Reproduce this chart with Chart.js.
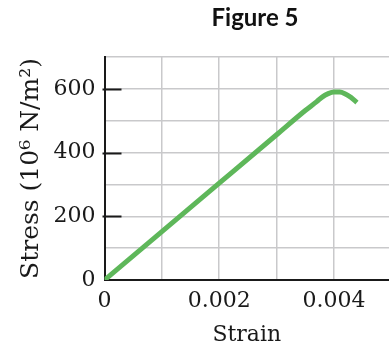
<!DOCTYPE html>
<html>
<head>
<meta charset="utf-8">
<script src="https://cdn.jsdelivr.net/npm/chart.js@4.4.0/dist/chart.umd.min.js"></script>
<style>
  html, body { margin: 0; padding: 0; background: #fff; overflow: hidden; }
  #wrap { position: relative; width: 389px; height: 349px; }
</style>
</head>
<body>
<div id="wrap"><canvas id="chart" width="389" height="349"></canvas></div>
<script>
// values
var strain = [0, 0.001, 0.002, 0.003, 0.0035, 0.0037, 0.0038, 0.0039, 0.004, 0.0041, 0.0042, 0.0043, 0.0044];
var stress = [0, 152, 304, 456, 532, 560, 575, 585, 590, 590, 584, 573, 557];
var xGrid = [0, 0.001, 0.002, 0.003, 0.004];
var xLabels = [0, 0.002, 0.004];
var yLabels = [0, 200, 400, 600];

var serif = 'DejaVu Serif';
var ink = '#1a1a1a';

var points = strain.map(function(s, i) { return {x: s, y: stress[i]}; });

// black tick marks drawn inside the plot at labelled values
var innerTicks = {
    id: 'innerTicks',
    afterDatasetsDraw: function(chart) {
        var ctx = chart.ctx, area = chart.chartArea, y = chart.scales.y;
        ctx.save();
        ctx.strokeStyle = ink;
        ctx.lineWidth = 2;
        yLabels.forEach(function(v) {
            if (v === 0) return;
            var py = Math.round(y.getPixelForValue(v)) + 0.5;
            ctx.beginPath();
            ctx.moveTo(area.left - 2, py);
            ctx.lineTo(area.left + 17, py);
            ctx.stroke();
        });
        ctx.restore();
    }
};

// title sits off-centre, above the plot
var figTitle = {
    id: 'figTitle',
    afterDraw: function(chart) {
        var ctx = chart.ctx;
        ctx.save();
        ctx.font = 'bold 24px Lato';
        ctx.fillStyle = '#111';
        ctx.textAlign = 'center';
        ctx.textBaseline = 'middle';
        ctx.fillText('Figure 5', 255, 18);
        ctx.restore();
    }
};

var ctx = document.getElementById('chart').getContext('2d');
var chart = new Chart(ctx, {
    type: 'line',
    data: {
        datasets: [{
            data: points,
            borderColor: '#5eb75a',
            borderWidth: 5,
            borderCapStyle: 'butt',
            pointRadius: 0,
            fill: false,
            cubicInterpolationMode: 'monotone'
        }]
    },
    plugins: [innerTicks, figTitle],
    options: {
        responsive: false,
        animation: false,
        events: [],
        layout: { padding: { top: 57, left: 0, right: 0, bottom: 0 } },
        plugins: { legend: { display: false }, tooltip: { enabled: false }, title: { display: false } },
        scales: {
            x: {
                type: 'linear',
                min: 0,
                max: 0.00496,
                afterBuildTicks: function(scale) {
                    scale.ticks = xGrid.map(function(v) { return {value: v}; });
                },
                afterFit: function(scale) { scale.height = 69; },
                grid: { color: '#c9c9cb', lineWidth: 1.5, drawTicks: false },
                border: { display: true, color: ink, width: 2 },
                ticks: {
                    padding: 8,
                    autoSkip: false,
                    color: ink,
                    font: { family: serif, size: 22 },
                    maxRotation: 0,
                    callback: function(v) {
                        var hit = xLabels.find(function(l) { return Math.abs(l - v) < 1e-9; });
                        return hit === undefined ? '' : (hit === 0 ? '0' : hit.toFixed(3));
                    }
                },
                title: {
                    display: true,
                    text: 'Strain',
                    color: ink,
                    font: { family: serif, size: 22 },
                    padding: { top: 0, bottom: 1 }
                }
            },
            y: {
                min: 0,
                max: 700,
                afterFit: function(scale) { scale.width = 104.5; },
                grid: { color: '#c9c9cb', lineWidth: 1.5, drawTicks: false },
                border: { display: true, color: ink, width: 2 },
                ticks: {
                    stepSize: 100,
                    padding: 9,
                    autoSkip: false,
                    color: ink,
                    font: { family: serif, size: 22 },
                    callback: function(v) { return yLabels.indexOf(v) >= 0 ? String(v) : ''; }
                },
                title: {
                    display: true,
                    text: 'Stress (10\u2076 N/m\u00b2)',
                    color: ink,
                    font: { family: serif, size: 25 },
                    padding: { top: 16, bottom: 0 }
                }
            }
        }
    }
});
</script>
</body>
</html>
